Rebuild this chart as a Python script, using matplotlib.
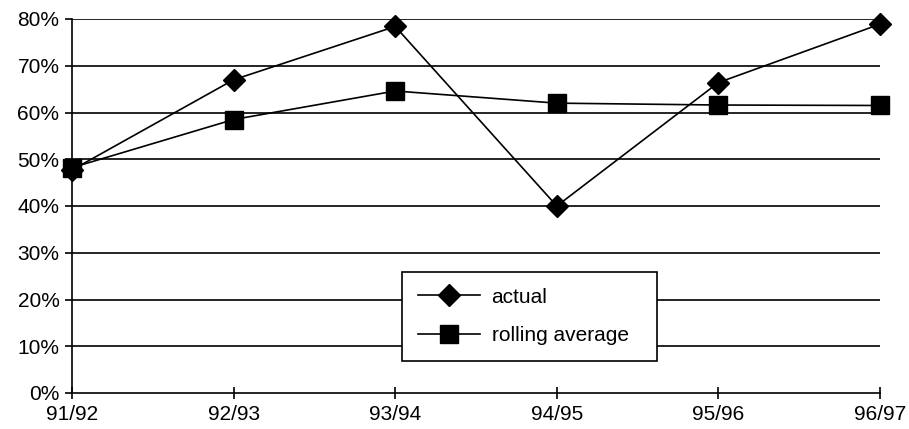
import matplotlib.pyplot as plt
from matplotlib.ticker import PercentFormatter

plt.rcParams['font.family'] = ['Liberation Sans', 'DejaVu Sans']

# seasons and the two series (fractions)
seasons = ['91/92', '92/93', '93/94', '94/95', '95/96', '96/97']
actual = [0.477, 0.670, 0.784, 0.400, 0.664, 0.789]
rolling_avg = [0.482, 0.585, 0.646, 0.620, 0.616, 0.615]
y_ticks = [0.0, 0.1, 0.2, 0.3, 0.4, 0.5, 0.6, 0.7, 0.8]

fig = plt.figure(figsize=(9.09, 4.29), dpi=100)
ax = fig.add_axes([72 / 909, 1 - 393 / 429, (880 - 72) / 909, (393 - 19) / 429])

x = range(len(seasons))

# horizontal grid lines
for t in y_ticks[1:]:
    ax.axhline(t, color='black', lw=1.2, zorder=1)

ax.plot(x, actual, color='black', lw=1.2, marker='D', markersize=11,
        label='actual', clip_on=False, zorder=3)
ax.plot(x, rolling_avg, color='black', lw=1.2, marker='s', markersize=13,
        label='rolling average', clip_on=False, zorder=3)

ax.set_xlim(0, len(seasons) - 1)
ax.set_ylim(0, 0.8)
ax.set_xticks(list(x))
ax.set_xticklabels(seasons)
ax.set_yticks(y_ticks)
ax.yaxis.set_major_formatter(PercentFormatter(1.0, decimals=0))

for side in ['top', 'right']:
    ax.spines[side].set_visible(False)
for side in ['left', 'bottom']:
    ax.spines[side].set_linewidth(1.2)

ax.tick_params(axis='x', direction='inout', length=9, width=1.2, labelsize=15, pad=4)
ax.tick_params(axis='y', direction='out', length=5, width=1.2, labelsize=15, pad=4)

# legend box stretched to a fixed width
x0, x1 = 402 / 909, 657 / 909
y0, y1 = 1 - 361 / 429, 1 - 272 / 429
leg = ax.legend(loc='upper left', bbox_to_anchor=(x0, y0, x1 - x0, y1 - y0),
                bbox_transform=fig.transFigure, mode='expand',
                frameon=True, fancybox=False, edgecolor='black', framealpha=1,
                fontsize=15, handlelength=3.0, borderpad=0.75,
                labelspacing=0.95, handletextpad=0.55, borderaxespad=0)
leg.get_frame().set_linewidth(1.2)
leg.set_zorder(5)

fig.savefig('out.png', dpi=100)
